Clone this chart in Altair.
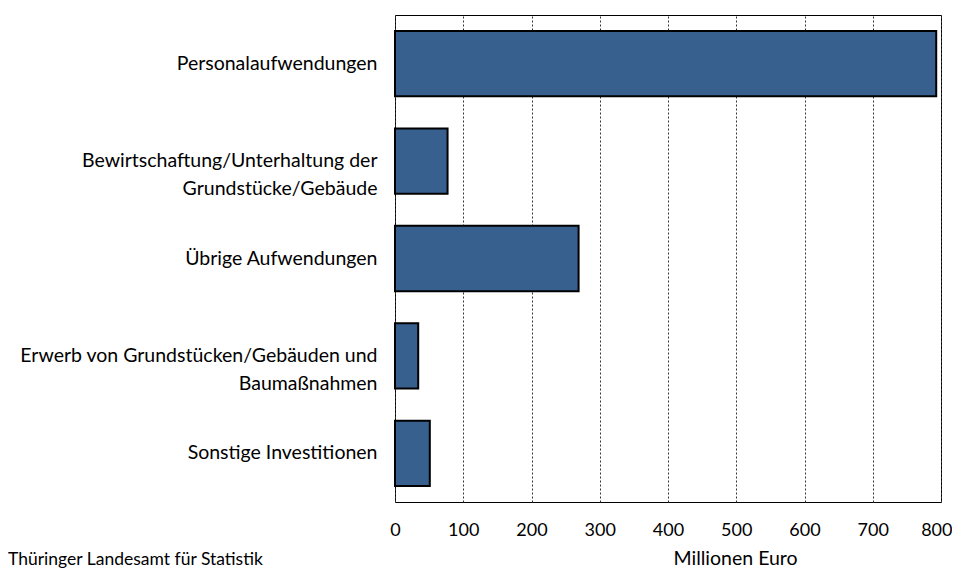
import altair as alt
import pandas as pd

categories = [
    "Personalaufwendungen",
    "Bewirtschaftung/Unterhaltung der\nGrundstücke/Gebäude",
    "Übrige Aufwendungen",
    "Erwerb von Grundstücken/Gebäuden und\nBaumaßnahmen",
    "Sonstige Investitionen",
]
values = [793, 77, 269, 34, 51]
x_ticks = [0, 100, 200, 300, 400, 500, 600, 700, 800]
source_note = "Thüringer Landesamt für Statistik"
x_title = "Millionen Euro"

df = pd.DataFrame({"kategorie": categories, "wert": values})

FONT = "Lato"
W, H = 546, 487

bars = alt.Chart(df).mark_bar(
    color="#37608F", stroke="black", strokeWidth=2
).encode(
    y=alt.Y(
        "kategorie:N",
        sort=categories,
        scale=alt.Scale(paddingInner=0.33, paddingOuter=0.165),
        axis=alt.Axis(
            title=None,
            labelExpr="split(datum.label, '\\n')",
            labelFontSize=19.5,
            labelFont=FONT,
            labelColor="black",
            labelPadding=18,
            labelLimit=420,
            labelLineHeight=28,
            ticks=False,
            domain=False,
            grid=False,
        ),
    ),
    x=alt.X(
        "wert:Q",
        scale=alt.Scale(domain=[0, 800], nice=False),
        axis=alt.Axis(
            values=x_ticks,
            title=x_title,
            titleFont=FONT,
            titleFontSize=19.5,
            titleFontWeight="normal",
            titleColor="black",
            titleAlign="left",
            titleBaseline="middle",
            titleX=278,
            titleY=56,
            labelFont=FONT,
            labelFontSize=18,
            labelColor="black",
            labelPadding=19,
            labelFlush=False,
            labelAlign={"expr": "datum.value == 800 ? 'right' : 'center'"},
            labelOffset={"expr": "datum.value == 800 ? 11 : 0"},
            ticks=False,
            domain=False,
            grid=True,
            gridDash=[2, 2],
            gridColor="#333333",
            gridWidth=1,
        ),
    ),
)

note = alt.Chart(pd.DataFrame({"t": [source_note]})).mark_text(
    align="left", baseline="middle", font=FONT, fontSize=17.5, color="black"
).encode(
    text="t:N",
    x=alt.value(-387),
    y=alt.value(545),
)

chart = alt.layer(bars, note).properties(
    width=W,
    height=H,
    background="white",
    padding={"left": 387, "top": 7, "right": 11, "bottom": 66},
    autosize=alt.AutoSizeParams(type="none"),
).configure_view(
    stroke="black", strokeWidth=1
)

chart.save("out.html", embed_options={"renderer": "svg", "actions": False})
